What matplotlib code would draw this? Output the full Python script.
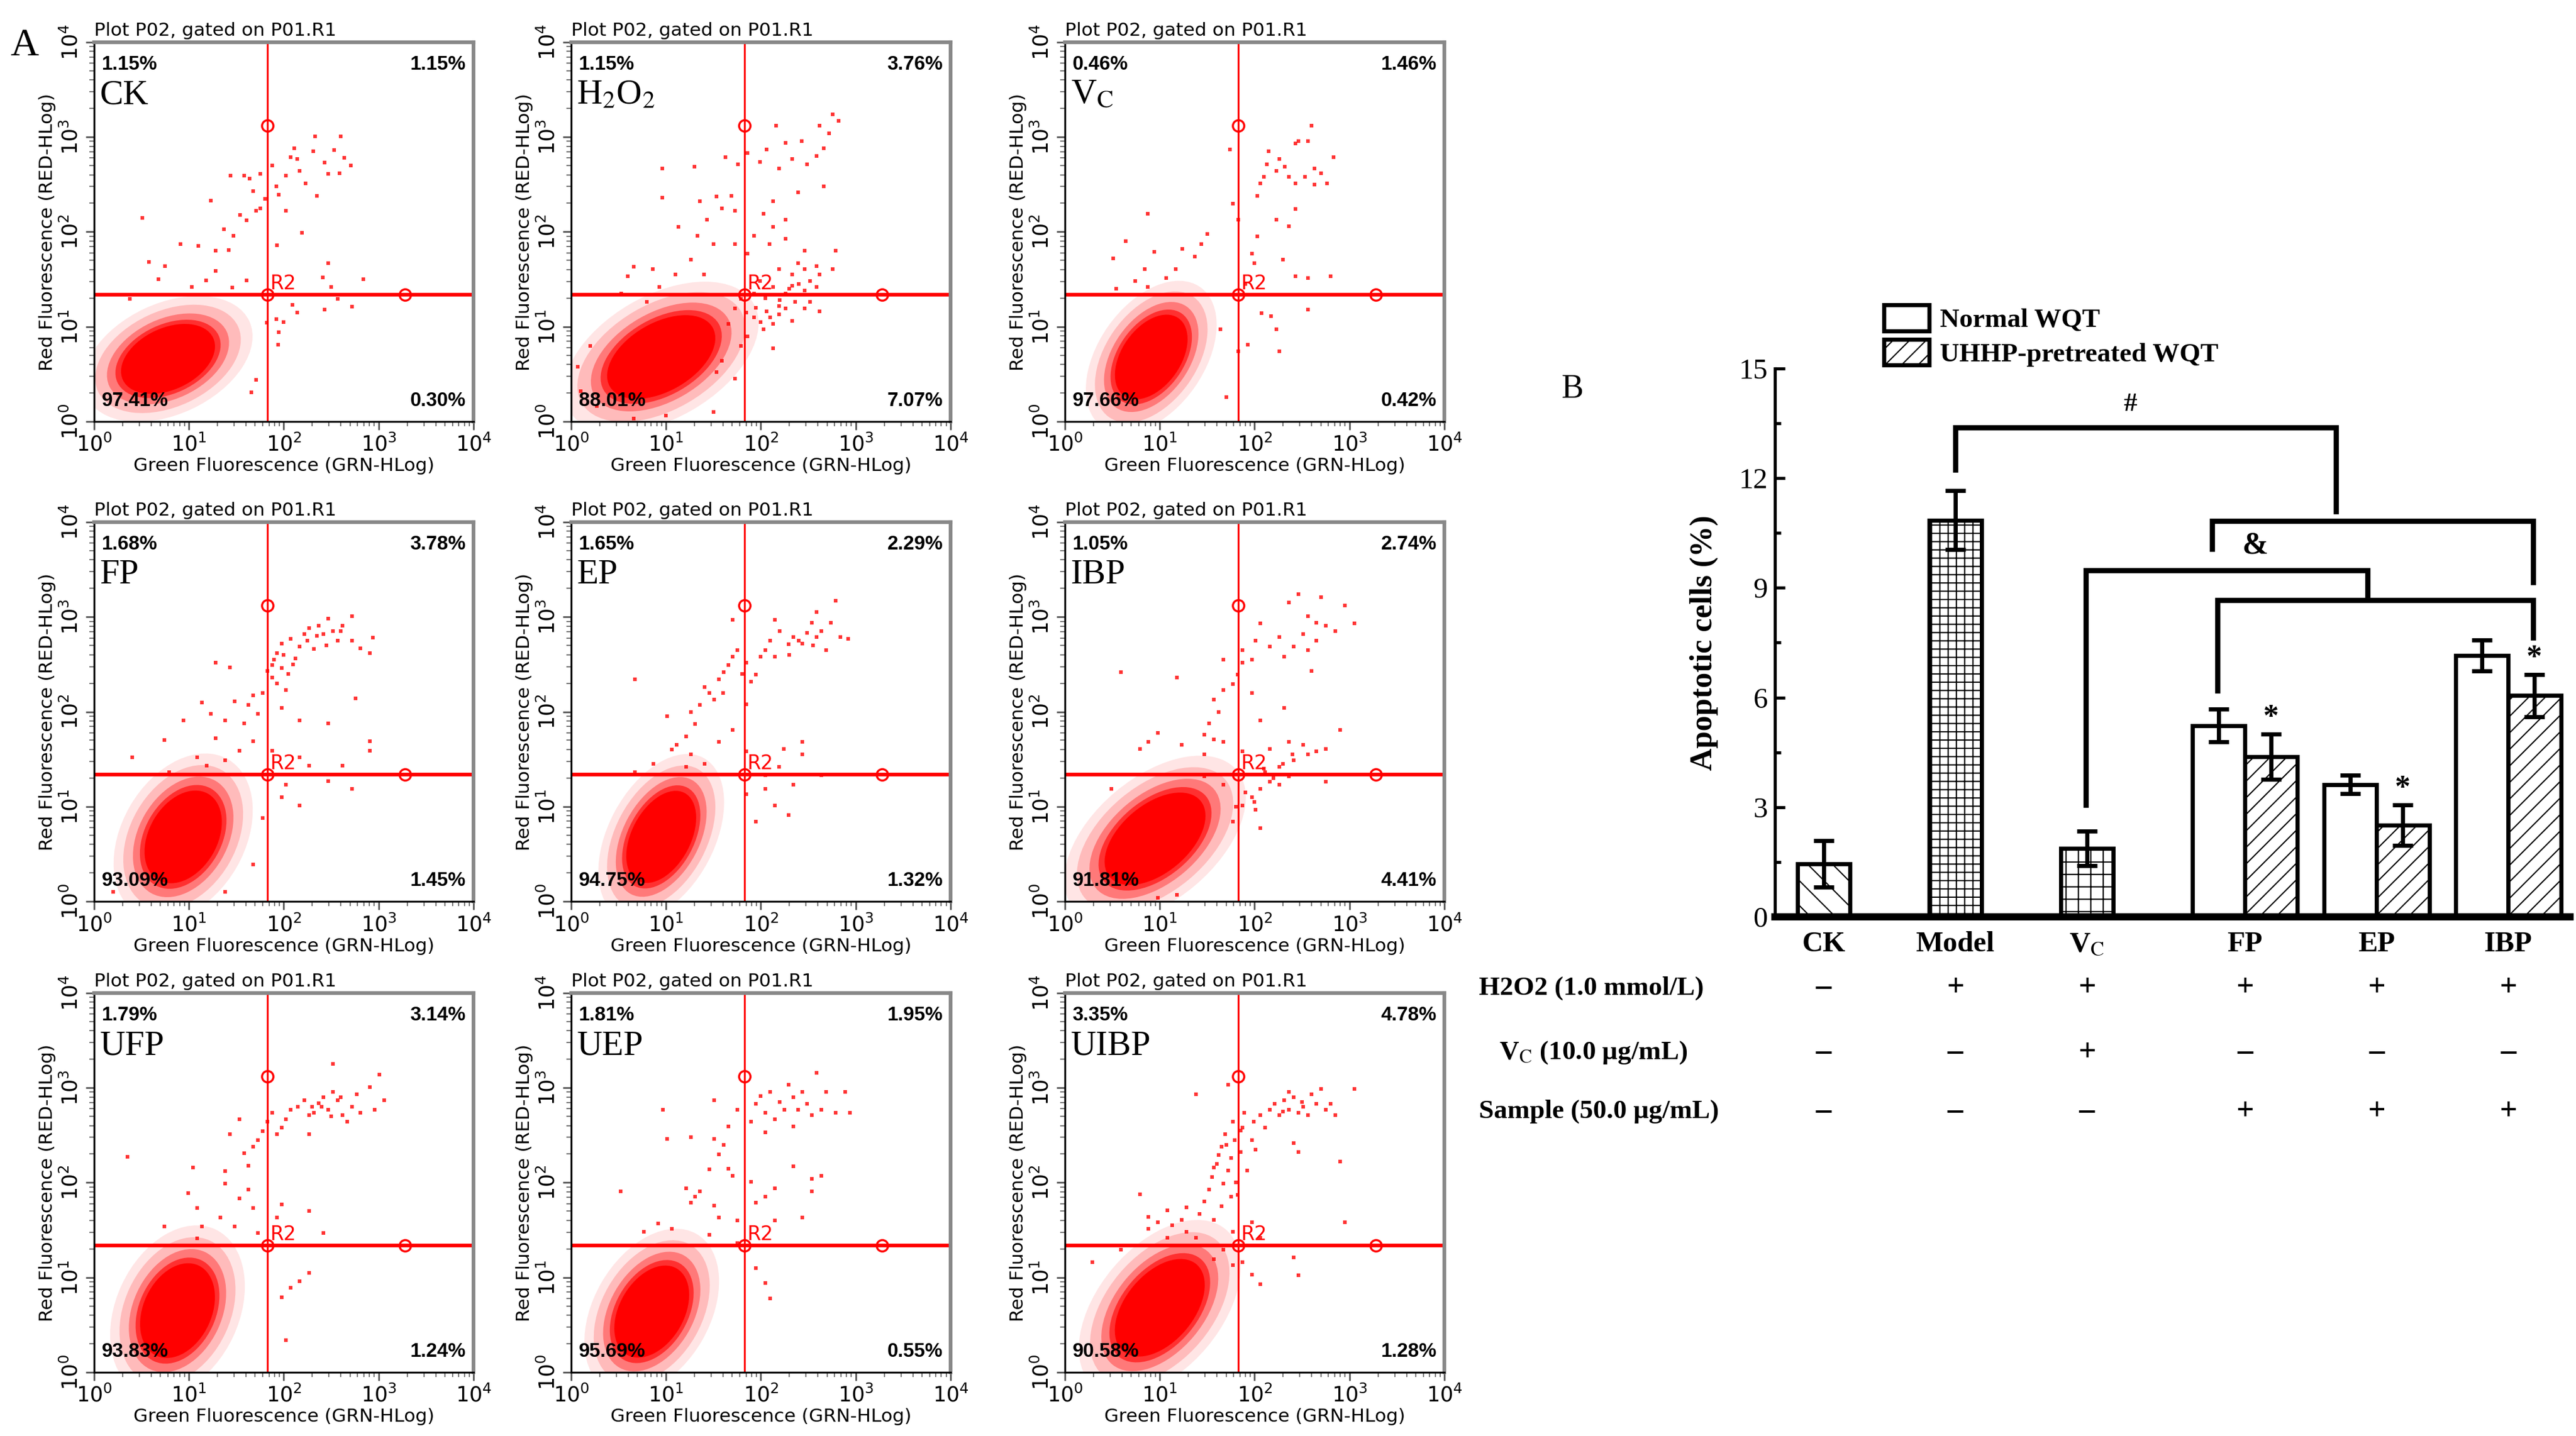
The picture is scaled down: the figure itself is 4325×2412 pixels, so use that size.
import matplotlib.pyplot as plt
import numpy as np
from matplotlib.patches import Ellipse, Patch
import matplotlib.transforms as mtransforms

plt.rcParams['hatch.linewidth'] = 0.6

# ---------------- panel A data (log10 decades of GRN / RED) ----------------
samples = ['CK', r'H$_2$O$_2$', r'V$_\mathrm{C}$', 'FP', 'EP', 'IBP', 'UFP', 'UEP', 'UIBP']
pct_ul = [1.15, 1.15, 0.46, 1.68, 1.65, 1.05, 1.79, 1.81, 3.35]
pct_ur = [1.15, 3.76, 1.46, 3.78, 2.29, 2.74, 3.14, 1.95, 4.78]
pct_ll = [97.41, 88.01, 97.66, 93.09, 94.75, 91.81, 93.83, 95.69, 90.58]
pct_lr = [0.30, 7.07, 0.42, 1.45, 1.32, 4.41, 1.24, 0.55, 1.28]

# dense main population (centre, size, tilt) in decades
core_x = [0.78, 0.95, 0.91, 0.94, 0.95, 0.95, 0.88, 0.85, 1.00]
core_y = [0.66, 0.68, 0.68, 0.68, 0.68, 0.66, 0.65, 0.64, 0.68]
core_w = [1.05, 1.25, 1.00, 1.05, 1.05, 1.25, 1.05, 1.05, 1.20]
core_h = [0.65, 0.72, 0.62, 0.72, 0.62, 0.72, 0.72, 0.68, 0.72]
core_ang = [25, 30, 55, 60, 62, 40, 65, 60, 50]

gate_green = 67.0
gate_red = 21.6
handle_green = 1890.0
handle_red = 1320.0

ck_events = [(0.51,2.15),(1.23,2.33),(0.91,1.87),(1.10,1.85),(0.58,1.68),(0.75,1.64),(0.68,1.50),(1.28,1.80),
    (1.37,2.03),(1.44,2.59),(1.58,2.59),(1.64,2.56),(1.75,2.61),(1.54,2.18),(1.61,2.12),(1.71,2.22),(1.75,2.25),
    (1.80,2.35),(1.68,2.43),(1.88,2.70),(1.92,2.48),(1.95,2.39),(2.02,2.59),(2.07,2.79),(2.11,2.88),(2.14,2.77),
    (2.17,2.64),(2.23,2.51),(2.31,2.85),(2.33,3.01),(2.43,2.73),(2.53,2.86),(2.60,3.01),(2.64,2.78),(2.71,2.70),
    (2.59,2.62),(2.47,2.61),(2.35,2.38),(2.19,1.99),(2.02,2.22),(1.93,1.86),(1.47,1.96),(1.42,1.81),(1.28,1.59),
    (1.18,1.49),(1.03,1.42),(1.46,1.41),(1.61,1.49),(2.47,1.67),(2.41,1.52),(2.50,1.42),(2.84,1.50),(2.57,1.29),
    (2.43,1.18),(2.09,1.23),(2.14,1.15),(2.72,1.21),(1.95,0.94),(2.00,1.05),(1.94,0.81),(1.82,1.04),(1.92,1.08),
    (0.38,1.29),(0.62,1.34),(1.71,0.44),(1.66,0.31)]

h2o2_events = [(0.96,2.67),(0.96,2.36),(1.30,2.69),(1.36,2.32),(1.53,2.37),(1.59,2.25),(1.69,2.38),(1.73,2.22),
    (1.43,2.13),(1.13,2.05),(1.33,1.96),(1.50,1.87),(1.73,1.87),(1.26,1.71),(0.86,1.61),(0.66,1.63),(0.60,1.53),
    (0.93,1.42),(1.10,1.55),(1.40,1.55),(1.63,2.79),(1.76,2.71),(1.86,2.83),(1.99,2.74),(2.06,2.87),(2.16,3.12),
    (2.19,2.67),(2.26,2.94),(2.33,2.77),(2.43,2.96),(2.49,2.71),(2.59,2.80),(2.62,3.12),(2.66,2.88),(2.72,3.04),
    (2.76,3.24),(2.82,3.17),(2.66,2.48),(2.39,2.42),(2.13,2.32),(2.03,2.19),(2.26,2.13),(2.13,2.05),(1.93,1.96),
    (2.26,1.93),(2.09,1.87),(1.86,1.77),(2.46,1.80),(2.79,1.80),(2.39,1.67),(2.19,1.61),(2.59,1.64),(2.76,1.61),
    (1.99,1.48),(2.13,1.42),(2.26,1.35),(2.33,1.43),(2.39,1.34),(2.46,1.38),(2.52,1.48),(2.59,1.42),(2.36,1.26),
    (2.26,1.19),(2.19,1.13),(2.33,1.06),(2.13,1.03),(2.03,0.97),(1.93,1.10),(1.86,0.90),(2.06,1.16),(2.19,1.22),
    (2.46,1.19),(2.52,1.26),(2.62,1.16),(2.62,1.55),(1.93,1.35),(1.79,1.29),(1.73,1.19),(1.66,1.03),(1.79,0.80),
    (2.13,0.77),(1.59,0.64),(1.53,0.52),(1.73,0.45),(1.50,0.10),(2.46,1.61),(2.33,1.55),(0.53,1.35),(0.80,1.26),
    (0.20,0.80),(0.07,0.58),(0.10,0.32),(0.27,0.16),(1.00,0.06),(0.66,0.03),(2.05,1.30),(2.20,1.28),(2.30,1.40),
    (2.10,1.10),(1.95,1.20),(2.40,1.45),(2.00,1.05),(1.85,1.15)]

vc_events = [(1.74,2.87),(1.77,2.30),(1.83,2.13),(2.03,1.95),(1.97,1.77),(2.03,2.38),(2.06,2.51),(2.10,2.58),
    (2.13,2.71),(2.15,2.85),(2.23,2.64),(2.26,2.77),(2.32,2.69),(2.36,2.58),(2.43,2.51),(2.43,2.93),(2.46,2.96),
    (2.53,2.58),(2.56,2.96),(2.60,3.12),(2.63,2.67),(2.63,2.50),(2.70,2.62),(2.76,2.51),(2.83,2.79),(2.36,2.06),
    (2.23,2.13),(2.43,2.24),(2.30,1.71),(2.00,1.67),(2.43,1.53),(2.56,1.51),(2.80,1.53),(1.90,1.45),(1.50,1.98),
    (1.44,1.87),(1.24,1.82),(1.37,1.74),(0.87,2.19),(0.64,1.90),(0.51,1.72),(0.94,1.79),(1.17,1.61),(1.07,1.51),
    (0.84,1.61),(0.87,1.42),(0.74,1.48),(0.54,1.40),(2.07,1.14),(2.17,1.11),(2.23,0.97),(2.26,0.74),(2.56,1.18),
    (1.93,0.81),(1.70,0.26),(1.83,0.74),(1.64,0.97)]

fp_events = [(1.88,2.49),(1.93,2.62),(1.98,2.72),(2.07,2.77),(2.17,2.69),(2.22,2.82),(2.27,2.88),(2.37,2.91),
    (2.42,2.82),(2.47,2.98),(2.57,2.75),(2.62,2.91),(2.72,3.01),(2.72,2.75),(2.81,2.67),(2.91,2.62),(2.94,2.78),
    (2.52,2.85),(2.32,2.66),(2.12,2.56),(1.98,2.46),(1.88,2.36),(1.83,2.43),(1.93,2.30),(2.02,2.23),(1.78,2.20),
    (1.68,2.17),(1.63,2.07),(1.48,2.11),(1.28,2.52),(1.43,2.47),(1.14,2.10),(1.23,1.98),(1.38,1.91),(1.58,1.88),
    (1.73,1.98),(1.98,2.04),(2.17,1.91),(2.47,1.88),(2.76,2.14),(0.94,1.91),(1.28,1.72),(1.68,1.69),(1.88,1.59),
    (0.74,1.70),(0.40,1.52),(1.09,1.52),(1.38,1.49),(1.53,1.59),(2.17,1.52),(2.27,1.43),(2.62,1.43),(2.91,1.69),
    (2.91,1.59),(2.47,1.27),(2.72,1.19),(1.98,1.10),(2.17,1.01),(1.78,0.88),(2.02,1.23),(1.19,1.43),(0.79,1.36),
    (1.68,0.39),(1.38,0.10),(0.20,0.10),(2.00,2.60),(2.10,2.50),(2.25,2.75),(2.45,2.70),(2.60,2.85),(2.35,2.80),
    (1.90,2.55),(2.05,2.40)]

ep_events = [(0.67,2.34),(1.01,1.95),(1.06,1.60),(1.11,1.65),(1.21,1.74),(1.31,1.87),(1.26,2.00),(1.36,2.07),
    (1.46,2.20),(1.41,2.26),(1.51,2.13),(1.56,2.34),(1.61,2.42),(1.66,2.49),(1.70,2.58),(1.75,2.65),(1.85,2.52),
    (1.90,2.32),(1.95,2.39),(2.00,2.58),(2.05,2.65),(2.10,2.75),(2.15,2.58),(2.20,2.85),(2.29,2.71),(2.34,2.79),
    (2.44,2.72),(2.49,2.83),(2.54,2.94),(2.59,2.79),(2.64,2.85),(2.69,2.65),(2.74,2.94),(2.79,3.17),(2.84,2.79),
    (2.92,2.77),(1.70,2.97),(2.15,2.97),(2.59,3.05),(1.85,2.08),(1.70,1.81),(1.56,1.68),(1.26,1.55),(1.21,1.42),
    (1.41,1.45),(1.85,1.58),(2.24,1.61),(2.44,1.68),(2.64,1.33),(2.44,1.55),(2.19,1.42),(2.05,1.19),(2.15,1.01),
    (2.29,0.91),(1.95,0.84),(1.85,1.13),(2.34,1.23),(2.05,1.33),(0.87,1.45),(0.67,1.36),(2.40,2.75),(2.55,2.70),
    (2.30,2.60),(1.80,2.40),(1.60,2.20)]

ibp_events = [(2.46,3.24),(2.70,3.21),(2.95,3.12),(2.36,3.15),(2.56,3.01),(2.65,2.94),(2.75,2.91),(3.05,2.93),
    (2.85,2.85),(2.51,2.82),(2.65,2.75),(2.56,2.65),(2.41,2.69),(2.26,2.79),(2.16,2.69),(2.31,2.58),(2.06,2.93),
    (2.01,2.75),(1.97,2.55),(1.87,2.52),(1.82,2.39),(1.77,2.29),(1.67,2.55),(1.87,2.65),(1.67,2.23),(1.57,2.13),
    (1.62,2.00),(1.52,1.88),(1.47,1.76),(1.57,1.71),(1.18,2.36),(0.59,2.42),(2.31,2.04),(1.97,2.20),(2.60,2.43),
    (2.90,1.81),(2.06,1.91),(1.67,1.68),(0.98,1.78),(0.88,1.68),(0.79,1.61),(1.23,1.65),(1.47,1.55),(1.87,1.58),
    (2.16,1.61),(2.36,1.68),(2.51,1.65),(2.56,1.55),(2.65,1.58),(2.75,1.61),(2.41,1.49),(2.26,1.42),(2.16,1.26),
    (2.06,1.19),(1.97,1.10),(1.87,1.01),(2.26,1.23),(2.36,1.32),(2.11,1.36),(2.01,0.97),(1.77,0.84),(2.06,0.77),
    (1.67,1.23),(1.47,1.32),(2.75,1.26),(0.49,1.19),(0.98,0.04),(1.18,0.07),(2.20,1.30),(2.30,1.45),(2.00,1.05),
    (1.90,1.15),(2.10,1.40),(1.80,1.00),(2.40,1.55)]

ufp_events = [(0.35,2.27),(0.99,1.89),(1.09,1.73),(1.04,2.16),(1.38,2.12),(1.43,2.51),(1.53,2.67),(1.58,2.31),
    (1.63,2.18),(1.68,2.38),(1.73,2.45),(1.78,2.54),(1.83,2.64),(1.88,2.74),(1.93,2.51),(1.98,2.58),(2.02,2.67),
    (2.07,2.77),(2.15,2.80),(2.22,2.87),(2.27,2.71),(2.32,2.74),(2.37,2.84),(2.42,2.90),(2.47,2.77),(2.52,2.96),
    (2.57,2.87),(2.62,2.71),(2.67,2.64),(2.72,2.80),(2.77,2.93),(2.81,2.74),(2.91,3.01),(2.96,2.77),(3.01,3.14),
    (3.06,2.87),(2.52,3.25),(2.27,2.51),(1.63,1.93),(1.53,1.83),(1.68,1.73),(1.38,1.99),(1.33,1.63),(1.14,1.54),
    (1.48,1.54),(1.98,1.77),(2.27,1.70),(2.42,1.47),(1.93,1.63),(1.73,1.47),(2.07,1.34),(0.74,1.54),(1.09,1.41),
    (2.27,1.05),(2.07,0.89),(1.98,0.79),(2.17,0.96),(2.02,0.34),(2.40,2.80),(2.60,2.90),(2.50,2.70),(2.30,2.80)]

uep_events = [(0.52,1.91),(0.97,2.77),(1.01,2.46),(1.26,2.48),(1.21,1.94),(1.31,1.85),(1.26,1.79),(1.36,1.91),
    (1.46,2.14),(1.51,2.46),(1.56,2.30),(1.61,2.40),(1.66,2.59),(1.66,2.15),(1.70,2.07),(1.51,2.87),(1.75,2.77),
    (1.90,2.64),(1.95,2.83),(2.00,2.91),(2.05,2.74),(2.10,2.96),(2.15,2.67),(2.20,2.85),(2.25,2.77),(2.29,3.03),
    (2.34,2.90),(2.39,2.77),(2.44,2.96),(2.49,2.83),(2.54,2.71),(2.64,2.77),(2.69,2.96),(2.79,2.74),(2.89,2.96),
    (2.94,2.74),(2.59,3.16),(2.34,2.59),(2.05,2.53),(1.90,2.01),(2.05,1.85),(2.15,1.94),(2.34,2.17),(2.54,2.04),
    (2.64,2.07),(2.54,1.91),(1.51,1.76),(1.56,1.63),(1.75,1.60),(1.95,1.79),(2.15,1.60),(2.44,1.63),(0.92,1.57),
    (1.06,1.51),(0.77,1.48),(1.46,1.45),(1.75,1.36),(1.95,1.10),(2.05,0.94),(2.10,0.78)]

uibp_events = [(0.79,1.88),(0.88,1.64),(0.98,1.58),(1.08,1.71),(1.13,1.55),(1.23,1.61),(1.28,1.48),(1.38,1.42),
    (1.42,1.67),(1.47,1.80),(1.52,1.93),(1.55,2.06),(1.57,2.16),(1.62,2.29),(1.65,2.38),(1.67,1.99),(1.69,2.51),
    (1.72,2.13),(1.75,2.26),(1.77,2.64),(1.79,2.45),(1.82,1.87),(1.85,2.32),(1.87,2.58),(1.89,2.74),(1.92,2.13),
    (1.97,2.45),(1.99,2.64),(2.01,2.35),(2.06,2.71),(2.11,2.58),(2.16,2.77),(2.21,2.83),(2.26,2.71),(2.31,2.87),
    (2.36,2.77),(2.41,2.90),(2.46,2.74),(2.51,2.80),(2.56,2.71),(2.60,2.93),(2.65,2.83),(2.70,2.99),(2.75,2.77),
    (2.80,2.83),(2.85,2.71),(2.36,2.96),(3.05,2.99),(1.38,2.93),(1.72,3.03),(2.46,2.32),(2.41,2.42),(2.90,2.22),
    (1.57,1.61),(1.77,1.48),(2.06,1.42),(1.97,1.58),(1.28,1.74),(0.88,1.51),(1.08,1.42),(2.95,1.58),(2.41,1.21),
    (2.46,1.02),(1.87,1.16),(1.97,1.03),(2.06,0.93),(1.77,1.13),(1.67,1.29),(1.57,1.19),(0.29,1.16),(0.59,1.29),
    (1.60,2.20),(1.70,2.40),(1.80,2.00),(1.85,2.55),(1.75,1.85),(1.65,1.75),(2.30,2.75),(2.50,2.85)]

all_events = [ck_events, h2o2_events, vc_events, fp_events, ep_events, ibp_events,
              ufp_events, uep_events, uibp_events]

# ---------------- panel B data ----------------
groups = ['CK', 'Model', r'V$_\mathrm{C}$', 'FP', 'EP', 'IBP']
single_vals = [1.45, 10.85, 1.87]
single_err = [0.63, 0.80, 0.47]
normal_vals = [5.23, 3.62, 7.15]
normal_err = [0.45, 0.25, 0.42]
uhhp_vals = [4.38, 2.51, 6.05]
uhhp_err = [0.62, 0.55, 0.58]
h2o2_row = ['\u2013', '+', '+', '+', '+', '+']
vc_row = ['\u2013', '\u2013', '+', '\u2013', '\u2013', '\u2013']
sample_row = ['\u2013', '\u2013', '\u2013', '+', '+', '+']

fig = plt.figure(figsize=(17.3, 9.648), dpi=250)

col_left = [0.0365, 0.2217, 0.4134]
row_bottom = [0.7065, 0.3723, 0.0444]
pw, ph = 0.1473, 0.2641
minor = [d + np.log10(m) for d in range(4) for m in range(2, 10)]
serif = ['Liberation Serif', 'DejaVu Serif']

for k in range(9):
    ax = fig.add_axes([col_left[k % 3], row_bottom[k // 3], pw, ph])
    ax.set_xlim(0, 4)
    ax.set_ylim(0, 4)
    # fuzzy fringe around the dense population, then the solid core
    for scale, alpha in [(1.8, 0.10), (1.55, 0.18), (1.3, 0.35), (1.12, 0.6), (1.0, 1.0)]:
        ax.add_patch(Ellipse((core_x[k], core_y[k]), core_w[k] * scale, core_h[k] * scale,
                             angle=core_ang[k], color='red', alpha=alpha, lw=0))
    ex, ey = zip(*all_events[k])
    ax.scatter(ex, ey, s=4, marker='s', color='red', alpha=0.8, lw=0)
    gx, gy = np.log10(gate_green), np.log10(gate_red)
    ax.axvline(gx, color='red', lw=0.9)
    ax.axhline(gy, color='red', lw=1.8)
    ax.plot([gx, gx, np.log10(handle_green)], [np.log10(handle_red), gy, gy], 'o',
            mfc='none', mec='red', ms=5.5, mew=1)
    ax.text(gx + 0.03, gy + 0.06, 'R2', color='red', fontsize=9.5)

    ax.text(0.02, 0.965, '%.2f%%' % pct_ul[k], transform=ax.transAxes, ha='left', va='top',
            fontsize=9.5, fontweight='bold', family='Liberation Sans')
    ax.text(0.98, 0.965, '%.2f%%' % pct_ur[k], transform=ax.transAxes, ha='right', va='top',
            fontsize=9.5, fontweight='bold', family='Liberation Sans')
    ax.text(0.02, 0.03, '%.2f%%' % pct_ll[k], transform=ax.transAxes, ha='left', va='bottom',
            fontsize=9.5, fontweight='bold', family='Liberation Sans')
    ax.text(0.98, 0.03, '%.2f%%' % pct_lr[k], transform=ax.transAxes, ha='right', va='bottom',
            fontsize=9.5, fontweight='bold', family='Liberation Sans')
    ax.text(0.015, 0.86, samples[k], transform=ax.transAxes, ha='left', va='center',
            fontsize=17, family=serif, math_fontfamily='stix')
    ax.text(0.0, 1.008, 'Plot P02, gated on P01.R1', transform=ax.transAxes,
            ha='left', va='bottom', fontsize=9)

    ax.set_xticks(range(5), [r'$10^{%d}$' % i for i in range(5)], fontsize=10)
    ax.set_yticks(range(5), [r'$10^{%d}$' % i for i in range(5)], fontsize=10, rotation=90, va='center')
    ax.set_xticks(minor, minor=True)
    ax.set_yticks(minor, minor=True)
    ax.tick_params(which='major', length=4, width=0.8, color='#555555', pad=2)
    ax.tick_params(which='minor', length=2.2, width=0.6, color='#777777')
    ax.set_xlabel('Green Fluorescence (GRN-HLog)', fontsize=9, labelpad=1)
    ax.set_ylabel('Red Fluorescence (RED-HLog)', fontsize=9, labelpad=2)
    for s in ['left', 'bottom']:
        ax.spines[s].set_linewidth(0.9)
    for s in ['top', 'right']:
        ax.spines[s].set_linewidth(1.8)
        ax.spines[s].set_color('#888888')

fig.text(0.004, 0.968, 'A', fontsize=19, family=serif, va='center')
fig.text(0.606, 0.729, 'B', fontsize=16, family=serif, va='center')

# ---------------- panel B ----------------
axb = fig.add_axes([0.689, 0.3615, 0.3087, 0.382])
bw = 0.4
single_pos = [0, 1, 2]
pair_pos = np.array([3, 4, 5])
single_hatch = ['\\\\', '+++', '++']
for i in range(3):
    axb.bar(single_pos[i], single_vals[i], bw, color='white', edgecolor='black', lw=2,
            hatch=single_hatch[i], zorder=2)
axb.bar(pair_pos, normal_vals, bw, color='white', edgecolor='black', lw=2, zorder=2)
axb.bar(pair_pos + bw, uhhp_vals, bw, color='white', edgecolor='black', lw=2, hatch='///', zorder=2)
eb = dict(fmt='none', ecolor='black', elinewidth=2, capsize=5, capthick=2, zorder=3)
axb.errorbar(single_pos, single_vals, yerr=single_err, **eb)
axb.errorbar(pair_pos, normal_vals, yerr=normal_err, **eb)
axb.errorbar(pair_pos + bw, uhhp_vals, yerr=uhhp_err, **eb)
for x, v, e in zip(pair_pos + bw, uhhp_vals, uhhp_err):
    axb.text(x, v + e + 0.05, '*', ha='center', va='bottom', fontsize=15, fontweight='bold',
             family=serif)

# significance brackets
br_x0 = [1.0, 2.95, 1.99, 2.99]
br_x1 = [3.89, 5.39, 4.13, 5.39]
br_top = [13.39, 10.83, 9.48, 8.67]
br_left = [12.23, 10.07, 3.06, 6.18]
br_right = [11.08, 9.15, 8.80, 7.64]
for x0, x1, yt, yl, yr in zip(br_x0, br_x1, br_top, br_left, br_right):
    axb.plot([x0, x0, x1, x1], [yl, yt, yt, yr], color='black', lw=2.5, solid_joinstyle='miter',
             clip_on=False)
axb.text(2.33, 13.7, '#', ha='center', va='bottom', fontsize=13, family=serif, fontweight='bold')
axb.text(3.28, 10.15, '&', ha='center', va='center', fontsize=15, family=serif, fontweight='bold')

axb.set_xlim(-0.37, 5.67)
axb.set_ylim(0, 15)
label_pos = [0, 1, 2, 3.2, 4.2, 5.2]
axb.set_xticks(label_pos, groups)
for t in axb.get_xticklabels():
    t.set_fontproperties(dict(family=serif, weight='bold', size=14, math_fontfamily='stix'))
axb.tick_params(axis='x', length=0, pad=7)
axb.set_yticks(range(0, 16, 3))
axb.set_yticks(np.arange(1.5, 15, 3), minor=True)
axb.tick_params(axis='y', which='both', direction='in', width=1.5, labelsize=14)
axb.tick_params(axis='y', which='major', length=5)
axb.tick_params(axis='y', which='minor', length=3)
for t in axb.get_yticklabels():
    t.set_family(serif)
axb.set_ylabel('Apoptotic cells (%)', fontsize=15, fontweight='bold', family=serif, labelpad=10)
axb.spines['top'].set_visible(False)
axb.spines['right'].set_visible(False)
axb.spines['left'].set_linewidth(1.5)
axb.spines['bottom'].set_linewidth(3.5)

leg_handles = [Patch(facecolor='white', edgecolor='black', lw=2),
               Patch(facecolor='white', edgecolor='black', lw=2, hatch='///')]
axb.legend(leg_handles, ['Normal WQT', 'UHHP-pretreated WQT'], loc='upper left',
           bbox_to_anchor=(0.726, 0.797), bbox_transform=fig.transFigure, frameon=False,
           prop=dict(family=serif, weight='bold', size=13), handlelength=1.7, handleheight=1.1,
           handletextpad=0.4, labelspacing=0.25, borderpad=0)

# treatment table below panel B
trans = mtransforms.blended_transform_factory(axb.transData, fig.transFigure)
row_names = ['H2O2 (1.0 mmol/L)', 'V$_\\mathrm{C}$ (10.0 \u03bcg/mL)', 'Sample (50.0 \u03bcg/mL)']
row_x = [0.574, 0.582, 0.574]
row_y = [0.312, 0.267, 0.226]
for name, rx, ry, signs in zip(row_names, row_x, row_y, [h2o2_row, vc_row, sample_row]):
    fig.text(rx, ry, name, ha='left', va='center', fontsize=13, fontweight='bold',
             family=serif, math_fontfamily='stix')
    for xp, s in zip(label_pos, signs):
        axb.text(xp, ry, s, transform=trans, ha='center', va='center', fontsize=15,
                 family=serif, fontweight='bold', clip_on=False)

fig.savefig('out.png', dpi=250)
